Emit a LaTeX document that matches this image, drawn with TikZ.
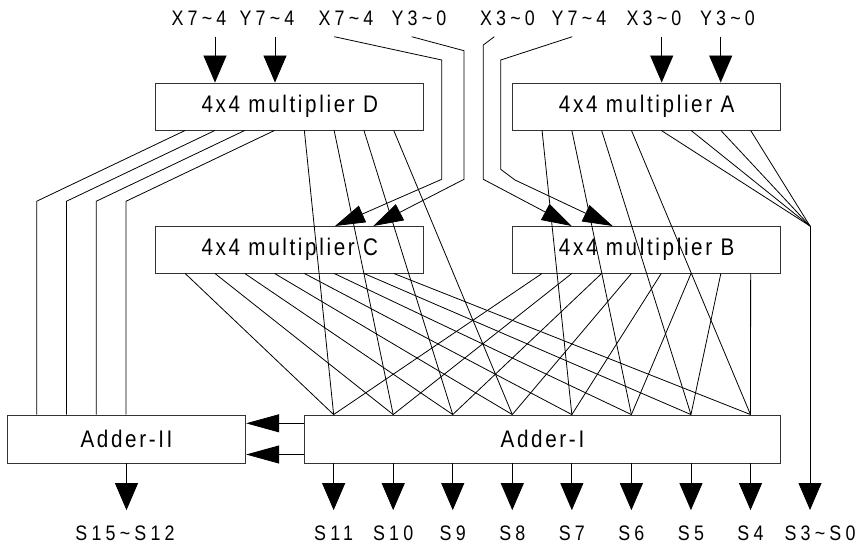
\documentclass[tikz,border=0pt]{standalone}
\usepackage{fontspec}
\setmainfont{Liberation Sans}
\newfontfamily\lblfont{Liberation Sans}[FakeStretch=0.85,LetterSpace=20]
\newfontfamily\boxfont{Liberation Sans}[FakeStretch=0.86,LetterSpace=11]
\usetikzlibrary{arrows.meta,calc}

\begin{document}
\begin{tikzpicture}[x=1pt,y=-1pt,
  wire/.style={line width=0.8pt, black},
  unit/.style={draw=black!80, line width=0.9pt, rectangle, inner sep=0pt,
    font=\boxfont\fontsize{24}{27}\selectfont},
  mult/.style={unit, minimum width=268pt, minimum height=47pt},
  adder/.style={unit, minimum height=48pt},
  lbl/.style={inner sep=0pt, font=\lblfont\fontsize{21}{23}\selectfont},
  vtip/.style={-{Triangle[length=27pt,width=23pt]}},
  stip/.style={-{Triangle[length=30pt,width=18pt]}},
  htip/.style={-{Triangle[length=33pt,width=18pt]}},
]
\useasboundingbox (0,0) rectangle (860,547);

% functional units
\node[mult] (D) at (289.8,106.5) {4x4 multiplier D};
\node[mult] (A) at (646.7,106.5) {4x4 multiplier A};
\node[mult] (C) at (289.8,249.5) {4x4 multiplier C};
\node[mult] (B) at (646.7,249.5) {4x4 multiplier B};
\node[adder, minimum width=238.4pt] (AII) at (126.5,439) {Adder-II};
\node[adder, minimum width=476.4pt] (AI) at (542.5,439) {Adder-I};

% operand labels
\node[lbl] (tx1) at (199,18.5) {X7\textasciitilde 4};
\node[lbl] (ty1) at (267,18.5) {Y7\textasciitilde 4};
\node[lbl] (tx2) at (346,18.5) {X7\textasciitilde 4};
\node[lbl] (ty2) at (419,18.5) {Y3\textasciitilde 0};
\node[lbl] (tx3) at (507.5,18.5) {X3\textasciitilde 0};
\node[lbl] (ty3) at (579,18.5) {Y7\textasciitilde 4};
\node[lbl] (tx4) at (654,18.5) {X3\textasciitilde 0};
\node[lbl] (ty4) at (727.5,18.5) {Y3\textasciitilde 0};

% wire start points under the operand labels
\coordinate (iD1) at (215,36.7);
\coordinate (iD2) at (275,36.7);
\coordinate (iA1) at (661.7,36.7);
\coordinate (iA2) at (720.7,36.7);
\coordinate (iC1) at (334.3,36.7);
\coordinate (iC2) at (411.7,36.7);
\coordinate (iB1) at (494.3,36.7);
\coordinate (iB2) at (572.3,36.7);

% operands into D and A
\draw[wire, vtip] (iD1) -- (iD1 |- D.north);
\draw[wire, vtip] (iD2) -- (iD2 |- D.north);
\draw[wire, vtip] (iA1) -- (iA1 |- A.north);
\draw[wire, vtip] (iA2) -- (iA2 |- A.north);

% operands routed down to C and B
\coordinate (eC1) at (335,226);
\coordinate (eC2) at (373.3,226);
\coordinate (eB1) at (571.7,226);
\coordinate (eB2) at (612.7,226);
\draw[wire, stip] (iC1) -- (441.7,60) -- (441.7,179.3) -- (eC1);
\draw[wire, stip] (iC2) -- (464,50.7) -- (464,179.3) -- (eC2);
\draw[wire, stip] (iB1) -- (483.3,45) -- (483.3,179.3) -- (eB1);
\draw[wire, stip] (iB2) -- (500.7,60) -- (500.7,169.3) -- (515,180) -- (eB2);

% D: upper four bits to Adder-II
\foreach \k in {1,...,4}
  \draw[wire] ($(D.south west)+(29.8*\k,0)$)
    -- ($(AII.north west)+(29.8*\k,-213.3)$)
    -- ($(AII.north west)+(29.8*\k,0)$);

% D: lower four bits to Adder-I
\foreach \i in {0,...,3}
  \draw[wire] ($(D.south west)+(29.8*\i+149,0)$)
    -- ($(AI.north west)+(29.8+59.55*\i,0)$);

% A: upper four bits to Adder-I
\foreach \i in {0,...,3}
  \draw[wire] ($(A.south west)+(29.8*\i+29.8,0)$)
    -- ($(AI.north west)+(29.8+59.55*\i+238.2,0)$);

% A: lower four bits straight out as S3~S0
\coordinate (mrg) at (810,226);
\foreach \k in {5,...,8}
  \draw[wire] ($(A.south west)+(29.8*\k,0)$) -- (mrg);
\coordinate (s30) at (810,510);
\draw[wire, vtip] (mrg) -- (s30);

% C and B: all eight bits to Adder-I
\foreach \i in {0,...,7} {
  \draw[wire] ($(C.south west)+(29.8*\i+29.8,0)$)
    -- ($(AI.north west)+(29.8+59.55*\i,0)$);
  \draw[wire] ($(B.south west)+(29.8*\i+29.8,0)$)
    -- ($(AI.north west)+(29.8+59.55*\i,0)$);
}

% carries from Adder-I to Adder-II
\coordinate (h1) at (0,423.3);
\coordinate (h2) at (0,454.5);
\draw[wire, htip] (AI.west |- h1) -- (AII.east |- h1);
\draw[wire, htip] (AI.west |- h2) -- (AII.east |- h2);

% sum outputs
\draw[wire, vtip] (AII.south) -- ++(0,46.7) coordinate (s15);
\foreach \i in {0,...,7}
  \draw[wire, vtip] ($(AI.south west)+(29.8+59.55*\i,0)$) -- ++(0,46.7)
    coordinate (o\i);

\node[lbl] (l15) at (125,533) {S15\textasciitilde S12};
\node[lbl] (l11) at ($(o0)+(0,23)$) {S11};
\node[lbl] (l10) at ($(o1)+(0,23)$) {S10};
\node[lbl] (l9)  at ($(o2)+(0,23)$) {S9};
\node[lbl] (l8)  at ($(o3)+(0,23)$) {S8};
\node[lbl] (l7)  at ($(o4)+(0,23)$) {S7};
\node[lbl] (l6)  at ($(o5)+(0,23)$) {S6};
\node[lbl] (l5)  at ($(o6)+(0,23)$) {S5};
\node[lbl] (l4)  at ($(o7)+(0,23)$) {S4};
\node[lbl] (l30) at (820,533) {S3\textasciitilde S0};
\end{tikzpicture}
\end{document}
